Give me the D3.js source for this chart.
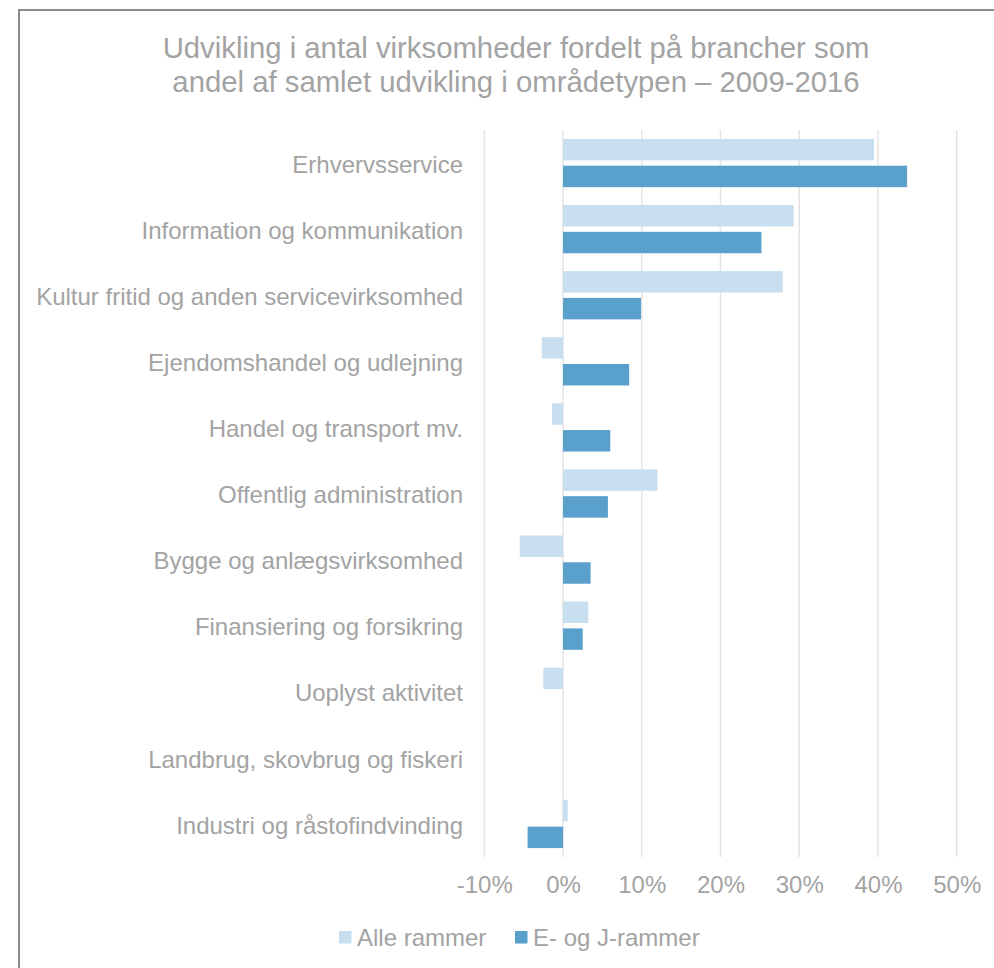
<!DOCTYPE html>
<html>
<head>
<meta charset="utf-8">
<script src="https://cdn.jsdelivr.net/npm/d3@7"></script>
<style>
  html, body { margin: 0; padding: 0; background: #fff; }
  svg { display: block; }
  text { font-family: "Liberation Sans", Arial, Helvetica, sans-serif; }
</style>
</head>
<body>
<svg id="chart" width="994" height="968"></svg>
<script>
const categories = [
  "Erhvervsservice",
  "Information og kommunikation",
  "Kultur fritid og anden servicevirksomhed",
  "Ejendomshandel og udlejning",
  "Handel og transport mv.",
  "Offentlig administration",
  "Bygge og anlægsvirksomhed",
  "Finansiering og forsikring",
  "Uoplyst aktivitet",
  "Landbrug, skovbrug og fiskeri",
  "Industri og råstofindvinding"
];
const seriesNames = ["Alle rammer", "E- og J-rammer"];
const alleRammer = [39.5, 29.3, 27.9, -2.7, -1.4, 12.0, -5.5, 3.2, -2.5, 0, 0.6];
const ejRammer   = [43.7, 25.2, 9.9, 8.4, 6.0, 5.7, 3.5, 2.5, 0, 0, -4.5];
const tickValues = [-10, 0, 10, 20, 30, 40, 50];
const titleLines = [
  "Udvikling i antal virksomheder fordelt på brancher som",
  "andel af samlet udvikling i områdetypen – 2009-2016"
];

const colors = ["#c7dfee", "#5aa0cd"];
const textColor = "#a3a3a3";
const fontSize = 24;
const fontFam = '"Liberation Sans", Arial, Helvetica, sans-serif';

const svg = d3.select("#chart");

// outer border (partially visible frame)
svg.append("path")
  .attr("d", "M19,968 L19,10 L994,10")
  .attr("fill", "none")
  .attr("stroke", "#8a8a8a")
  .attr("stroke-width", 2);

// title
svg.append("text")
  .attr("x", 516)
  .attr("y", 58)
  .attr("text-anchor", "middle")
  .attr("fill", textColor)
  .style("font-size", "29.3px")
  .selectAll("tspan")
  .data(titleLines)
  .join("tspan")
  .attr("x", 516)
  .attr("dy", (d, i) => i === 0 ? 0 : 33.5)
  .text(d => d);

const x = d3.scaleLinear().domain([-10, 50]).range([484.3, 956.7]);
const y = d3.scaleBand().domain(categories).range([130, 857])
  .paddingInner(0.27).paddingOuter(0.135);
const ySub = d3.scaleBand().domain(seriesNames).range([0, y.bandwidth()])
  .paddingInner(0.2).paddingOuter(0);

// gridlines
svg.append("g")
  .selectAll("line")
  .data(tickValues)
  .join("line")
  .attr("x1", d => x(d)).attr("x2", d => x(d))
  .attr("y1", 130).attr("y2", 857)
  .attr("stroke", "#e4e4e4")
  .attr("stroke-width", 1.5);

// x axis labels
const xAxis = d3.axisBottom(x).tickValues(tickValues)
  .tickFormat(d => d + "%").tickSize(0).tickPadding(0);
const gx = svg.append("g").attr("transform", "translate(0,876)").call(xAxis);
gx.select(".domain").remove();
gx.selectAll("text")
  .attr("fill", textColor)
  .attr("dy", "0.71em")
  .style("font-size", fontSize + "px")
  .style("font-family", fontFam);

// y axis labels
const yAxis = d3.axisLeft(y).tickSize(0).tickPadding(0);
const gy = svg.append("g").attr("transform", "translate(463,2)").call(yAxis);
gy.select(".domain").remove();
gy.selectAll("text")
  .attr("fill", textColor)
  .style("font-size", fontSize + "px")
  .style("font-family", fontFam);

// bars
const data = categories.map((c, i) => ({
  cat: c,
  vals: [
    { s: seriesNames[0], v: alleRammer[i] },
    { s: seriesNames[1], v: ejRammer[i] }
  ]
}));

const groups = svg.append("g")
  .selectAll("g")
  .data(data)
  .join("g")
  .attr("transform", d => `translate(0,${y(d.cat)})`);

groups.selectAll("rect")
  .data(d => d.vals)
  .join("rect")
  .attr("x", d => x(Math.min(0, d.v)))
  .attr("width", d => Math.abs(x(d.v) - x(0)))
  .attr("y", d => ySub(d.s))
  .attr("height", ySub.bandwidth())
  .attr("fill", (d, i) => colors[i]);

// legend
const legendItems = [
  { name: seriesNames[0], color: colors[0], x: 339 },
  { name: seriesNames[1], color: colors[1], x: 515 }
];
const lg = svg.append("g");
legendItems.forEach(it => {
  lg.append("rect")
    .attr("x", it.x).attr("y", 931)
    .attr("width", 12.5).attr("height", 12.5)
    .attr("fill", it.color);
  lg.append("text")
    .attr("x", it.x + 18).attr("y", 938)
    .attr("dy", "0.35em")
    .attr("fill", textColor)
    .style("font-size", fontSize + "px")
    .text(it.name);
});
</script>
</body>
</html>
